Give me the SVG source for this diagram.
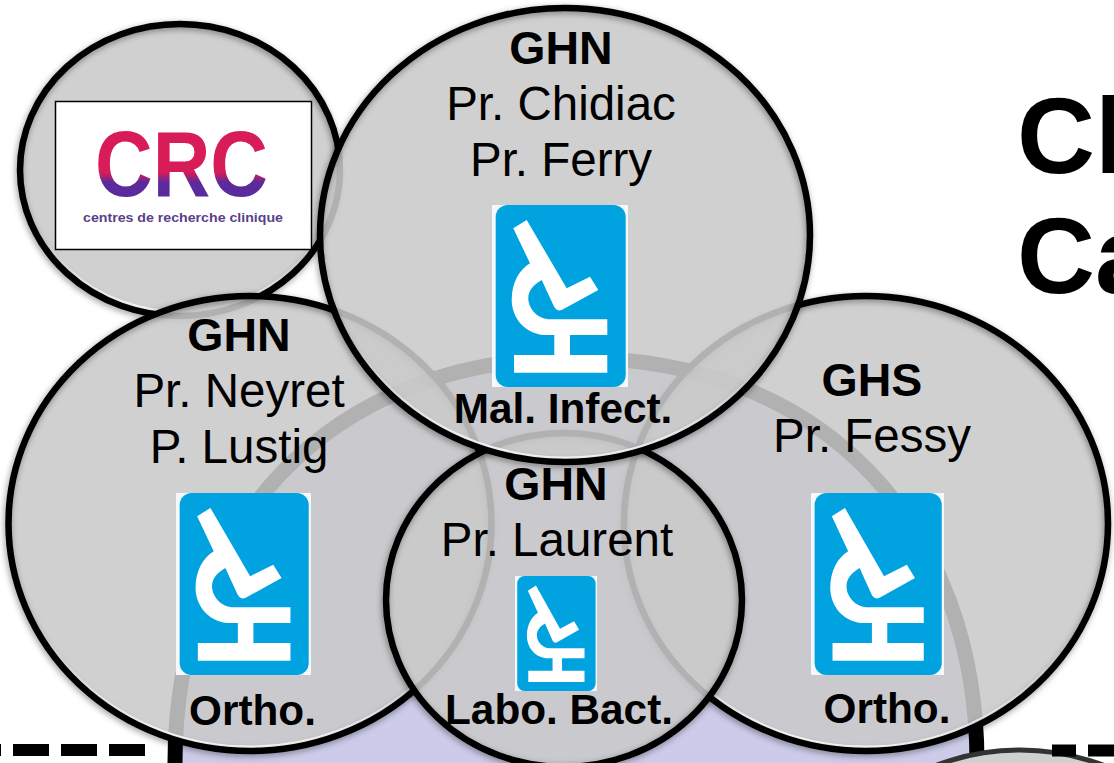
<svg xmlns="http://www.w3.org/2000/svg" width="1114" height="763" viewBox="0 0 1114 763">
<style>
text{font-family:"Liberation Sans",Arial,sans-serif;fill:#000}
.c{text-anchor:middle}
.h{font-size:46.500px;font-weight:700}
.n{font-size:47.500px}
.l{font-size:42.300px;font-weight:700}
.t{font-size:108px;font-weight:700}
.disc{fill:#c9c9c9;fill-opacity:.88}
.rim{fill:none;stroke:#000;stroke-width:6.500;filter:url(#sh)}
.hl{fill:none;stroke:url(#hi);stroke-width:3}
.dash{stroke:#000;stroke-width:12;fill:none}
</style>
<defs>
<filter id="sh" x="-10%" y="-10%" width="120%" height="120%"><feDropShadow dx="-1" dy="2" stdDeviation="3" flood-color="#000" flood-opacity=".4"/></filter>
<linearGradient id="hi" x1="0" y1="0" x2="0" y2="1"><stop offset=".72" stop-color="#fff" stop-opacity="0"/><stop offset=".97" stop-color="#fff"/></linearGradient>
<linearGradient id="crc" x1="0" y1="0" x2="0" y2="1"><stop offset=".58" stop-color="#d81c58"/><stop offset=".68" stop-color="#5b2a9c"/></linearGradient>
<symbol id="scope" viewBox="0 0 136 182" preserveAspectRatio="none">
<rect width="136" height="182" fill="#f4f8fa"/>
<rect x="3.700" y="0" width="130" height="182" rx="12" fill="#00a3e0"/>
<path fill="#fff" d="M21.300 23.300L34.700 15L74.700 83.300L98 71.700L106.300 85L69.700 105Q64 107 61.300 100L49.700 75C41 80 36.300 86 36.300 93.300C36.300 104 46 114.300 58 114.300L115.300 114.300L115.300 130L78 130L78 150L115.300 150L115.300 167.700L22 167.700L22 150L62.300 150L62.300 130L51.300 130C32 128 19.700 112 19.700 95C19.700 78 27 65 38 58.300Z"/>
</symbol>
</defs>
<g id="frame">
<path d="M175 775V763C175 530 325 358 576 358C827 358 977 530 977 763V775Z" fill="#ccccea" stroke="#000" stroke-width="15"/>
<path class="dash" d="M145 750H0" stroke-dasharray="36 12"/>
</g>
<g id="node-corner">
<ellipse cx="1020" cy="900" rx="190" ry="150" fill="#d0d0d0" stroke="#333" stroke-width="5"/>
<path class="dash" d="M1052 750.500H1114" stroke-dasharray="24 12 36 12"/>
</g>
<g id="node-crc">
<ellipse class="disc" cx="180" cy="170" rx="160" ry="146"/>
<ellipse class="hl" cx="180" cy="170" rx="156" ry="142"/>
<ellipse class="rim" cx="180" cy="170" rx="160" ry="146"/>
<rect x="55.500" y="101.500" width="256" height="148" fill="#fff" stroke="#000" stroke-width="1.500"/>
<text x="95" y="196" font-size="93" font-weight="700" textLength="173" lengthAdjust="spacingAndGlyphs" style="fill:url(#crc)">CRC</text>
<text x="83" y="222" font-size="13" font-weight="700" textLength="200" lengthAdjust="spacingAndGlyphs" style="fill:#5a3f8a">centres de recherche clinique</text>
</g>
<g id="node-left">
<ellipse class="disc" cx="250" cy="523.500" rx="241.500" ry="227.500"/>
<ellipse class="hl" cx="250" cy="523.500" rx="237.500" ry="223.500"/>
<ellipse class="rim" cx="250" cy="523.500" rx="241.500" ry="227.500"/>
<text class="h c" x="239" y="351">GHN</text>
<text class="n c" x="239" y="407">Pr. Neyret</text>
<text class="n c" x="239" y="463">P. Lustig</text>
<use href="#scope" x="176" y="493" width="135" height="182"/>
<text class="l c" x="252.500" y="725">Ortho.</text>
</g>
<g id="node-right">
<ellipse class="disc" cx="866" cy="523.500" rx="242" ry="227.500"/>
<ellipse class="hl" cx="866" cy="523.500" rx="238" ry="223.500"/>
<ellipse class="rim" cx="866" cy="523.500" rx="242" ry="227.500"/>
<text class="h c" x="872" y="396">GHS</text>
<text class="n c" x="872" y="452">Pr. Fessy</text>
<use href="#scope" x="811" y="493" width="133" height="182"/>
<text class="l c" x="887" y="723">Ortho.</text>
</g>
<g id="node-bottom">
<ellipse class="disc" cx="564" cy="600" rx="178" ry="167"/>
<ellipse class="rim" cx="564" cy="600" rx="178" ry="167"/>
<text class="h c" x="556" y="500">GHN</text>
<text class="n c" x="557" y="556">Pr. Laurent</text>
<use href="#scope" x="515" y="576" width="82" height="115"/>
<text class="l c" x="559" y="724">Labo. Bact.</text>
</g>
<g id="node-top">
<ellipse class="disc" cx="565" cy="235" rx="245" ry="227"/>
<ellipse class="hl" cx="565" cy="235" rx="241" ry="223"/>
<ellipse class="rim" cx="565" cy="235" rx="245" ry="227"/>
<text class="h c" x="561" y="64">GHN</text>
<text class="n c" x="561" y="120">Pr. Chidiac</text>
<text class="n c" x="561" y="176">Pr. Ferry</text>
<use href="#scope" x="492" y="205" width="136" height="182"/>
<text class="l c" x="563" y="423">Mal. Infect.</text>
</g>
<g id="title">
<text class="t" x="1017" y="173">Cl</text>
<text class="t" x="1017" y="293">Ca</text>
</g>
</svg>
